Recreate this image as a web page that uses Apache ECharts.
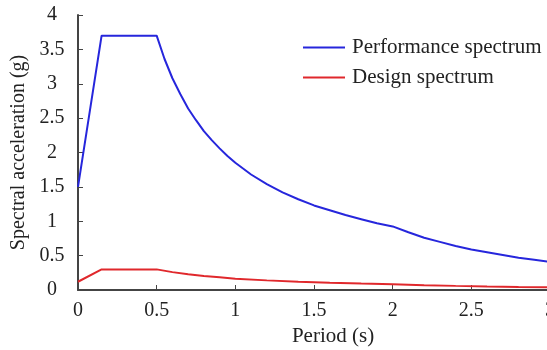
<!DOCTYPE html>
<html>
<head>
<meta charset="utf-8">
<script src="https://cdn.jsdelivr.net/npm/echarts@6/dist/echarts.min.js"></script>
<style>
    html, body { margin: 0; padding: 0; background: #fff; }
    #chart { width: 547px; height: 350px; }
</style>
</head>
<body>
<div id="chart"></div>
<script>
// periods (s) and spectral accelerations (g)
const perfPeriods = [0, 0.15, 0.5, 0.55, 0.6, 0.65, 0.7, 0.75, 0.8, 0.85, 0.9, 0.95, 1.0,
    1.1, 1.2, 1.3, 1.4, 1.5, 1.6, 1.7, 1.8, 1.9, 2.0,
    2.1, 2.2, 2.3, 2.4, 2.5, 2.6, 2.7, 2.8, 2.9, 3.0];
const perfValues = [1.5, 3.7, 3.7, 3.36, 3.08, 2.85, 2.64, 2.47, 2.31, 2.18, 2.06, 1.95, 1.85,
    1.68, 1.54, 1.42, 1.32, 1.23, 1.16, 1.09, 1.03, 0.97, 0.925,
    0.84, 0.76, 0.70, 0.64, 0.59, 0.55, 0.51, 0.47, 0.44, 0.41];

const designPeriods = [0, 0.15, 0.5, 0.6, 0.7, 0.8, 0.9, 1.0, 1.2, 1.4, 1.6, 1.8, 2.0,
    2.2, 2.4, 2.6, 2.8, 3.0];
const designValues = [0.12, 0.3, 0.3, 0.26, 0.23, 0.205, 0.185, 0.165, 0.14, 0.12, 0.105, 0.093, 0.083,
    0.07, 0.06, 0.051, 0.044, 0.038];

const xTicks = [0, 0.5, 1, 1.5, 2, 2.5, 3];
const yTicks = [0, 0.5, 1, 1.5, 2, 2.5, 3, 3.5, 4];

const font = '"Liberation Serif", "DejaVu Serif", serif';
const axisColor = '#444';

const toPairs = (xs, ys) => xs.map((x, i) => [x, ys[i]]);

const chart = echarts.init(document.getElementById('chart'));

chart.setOption({
    animation: false,
    textStyle: { fontFamily: font, color: '#222' },
    grid: {
        left: 78,
        right: -3,
        top: 15,
        bottom: 60,
        outerBoundsMode: 'none',
        containLabel: false
    },
    legend: {
        orient: 'vertical',
        left: 298,
        top: 32,
        icon: 'rect',
        itemWidth: 42,
        itemHeight: 2,
        itemGap: 9,
        textStyle: { fontFamily: font, fontSize: 21, color: '#222', padding: [0, 0, 0, 2] },
        data: ['Performance spectrum', 'Design spectrum']
    },
    xAxis: {
        type: 'value',
        min: 0,
        max: 3,
        interval: 0.5,
        name: 'Period (s)',
        nameLocation: 'middle',
        nameGap: 36,
        nameTextStyle: { fontFamily: font, fontSize: 21, color: '#222', padding: [0, 0, 0, 38] },
        axisLine: { show: true, lineStyle: { color: axisColor, width: 2 } },
        axisTick: { show: true, inside: true, length: 5, lineStyle: { color: axisColor } },
        axisLabel: {
            fontFamily: font, fontSize: 20, color: '#222', margin: 11,
            showMaxLabel: true,
            formatter: v => xTicks.includes(v) ? String(v) : ''
        },
        splitLine: { show: false }
    },
    yAxis: {
        type: 'value',
        min: 0,
        max: 4,
        interval: 0.5,
        name: 'Spectral acceleration (g)',
        nameLocation: 'middle',
        nameGap: 45,
        nameTextStyle: { fontFamily: font, fontSize: 20, color: '#222' },
        axisLine: { show: true, lineStyle: { color: axisColor, width: 2 } },
        axisTick: { show: true, inside: true, length: 5, lineStyle: { color: axisColor } },
        axisLabel: {
            fontFamily: font, fontSize: 20, color: '#222', margin: 26,
            align: 'center',
            formatter: v => yTicks.includes(v) ? String(v) : ''
        },
        splitLine: { show: false }
    },
    series: [
        {
            name: 'Performance spectrum',
            type: 'line',
            smooth: false,
            symbol: 'none',
            lineStyle: { color: '#2626dc', width: 2 },
            itemStyle: { color: '#2626dc' },
            data: toPairs(perfPeriods, perfValues)
        },
        {
            name: 'Design spectrum',
            type: 'line',
            smooth: false,
            symbol: 'none',
            lineStyle: { color: '#e0282c', width: 2 },
            itemStyle: { color: '#e0282c' },
            data: toPairs(designPeriods, designValues)
        }
    ]
});
</script>
</body>
</html>
